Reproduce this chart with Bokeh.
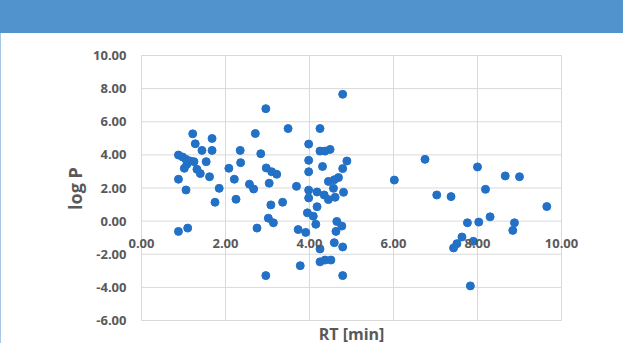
from bokeh.plotting import figure
from bokeh.models import Div, Range1d, FixedTicker, NumeralTickFormatter, Label, LabelSet, ColumnDataSource
from bokeh.core.properties import value
from bokeh.layouts import column
from bokeh.embed import file_html
from bokeh.resources import INLINE

# Retention time [min]
rt = [1.22, 1.28, 1.68, 1.44, 1.68, 0.88, 0.98, 1.06, 1.16, 1.25, 1.08, 1.02, 1.32, 1.40,
      1.54, 1.62, 0.88, 1.06, 1.85, 1.75, 2.08, 2.21, 2.25, 2.35, 2.36, 2.57, 0.88, 1.10,
      2.71, 2.96, 3.49, 3.98, 4.25, 4.25, 4.37, 4.49, 2.84, 3.98, 4.31, 2.97, 3.10, 3.22,
      3.98, 2.67, 3.04, 3.69, 3.98, 4.18, 3.36, 3.08, 3.98, 4.18, 3.95, 4.09, 3.02, 3.14,
      4.15, 2.75, 3.73, 3.91, 4.25, 3.78, 4.25, 4.37, 4.51, 2.96, 4.79,
      4.79, 4.89, 4.79, 4.69, 4.59, 4.45, 4.35, 4.45, 4.61, 4.81, 4.57, 4.65, 4.77, 4.63,
      4.59, 4.79,
      6.02, 6.75, 7.03, 7.37, 8.00, 8.19, 8.66, 9.00, 9.65, 8.30, 7.76, 8.03, 8.88, 8.84,
      7.63, 7.51, 7.43, 7.90, 7.83]
# log P
logp = [5.27, 4.67, 4.99, 4.27, 4.27, 3.99, 3.87, 3.73, 3.63, 3.59, 3.43, 3.19, 3.13, 2.87,
        3.59, 2.68, 2.53, 1.88, 1.98, 1.14, 3.19, 2.53, 1.32, 4.27, 3.53, 2.23, -0.62, -0.42,
        5.29, 6.79, 5.59, 4.65, 5.59, 4.23, 4.23, 4.33, 4.07, 3.67, 3.30, 3.21, 2.98, 2.83,
        2.98, 1.94, 2.29, 2.10, 1.87, 1.76, 1.14, 0.98, 1.40, 0.87, 0.50, 0.30, 0.18, -0.10,
        -0.19, -0.42, -0.51, -0.68, -1.68, -2.69, -2.46, -2.35, -2.35, -3.29, -3.29,
        7.66, 3.63, 3.17, 2.63, 2.50, 2.40, 1.58, 1.30, 1.44, 1.74, 1.98, -0.02, -0.30, -0.62,
        -1.30, -1.56,
        2.48, 3.73, 1.58, 1.48, 3.27, 1.92, 2.73, 2.68, 0.88, 0.26, -0.10, -0.06, -0.10, -0.56,
        -0.96, -1.36, -1.62, -1.22, -3.91]

x_ticks = [0, 2, 4, 6, 8, 10]
y_ticks = [-6, -4, -2, 0, 2, 4, 6, 8, 10]
x_tick_labels = ["0.00", "2.00", "4.00", "6.00", "8.00", "10.00"]
x_title = "RT [min]"
y_title = "log P"

GREY = "#595959"
GRID = "#d9d9d9"
FONT = "Open Sans"

# ---- layout geometry (pixels) ----
W = 623
HEADER_H = 33
FIG_H = 310
FRAME_LEFT = 126          # frame left edge inside the figure
X0_PX, X1_PX = 140, 560   # where x=0 and x=10 fall inside the figure
Y_TOP_PX, Y_BOT_PX = 22, 287  # where y=10 and y=-6 fall inside the figure

xs = (X1_PX - X0_PX) / (x_ticks[-1] - x_ticks[0])
ys = (Y_BOT_PX - Y_TOP_PX) / (y_ticks[-1] - y_ticks[0])
x_start = x_ticks[0] - (X0_PX - FRAME_LEFT) / xs
x_end = x_ticks[-1] + (W - X1_PX) / xs
y_end = y_ticks[-1] + Y_TOP_PX / ys
y_start = y_ticks[0] - (FIG_H - Y_BOT_PX) / ys

header = Div(text="", width=W, height=HEADER_H,
             styles={"background-color": "#5193CD", "margin": "0", "padding": "0"})

p = figure(width=W, height=FIG_H, x_range=Range1d(x_start, x_end), y_range=Range1d(y_start, y_end),
           output_backend="svg", toolbar_location=None, x_axis_location=None,
           min_border_left=FRAME_LEFT, min_border_right=0, min_border_top=0, min_border_bottom=0,
           background_fill_color="white", border_fill_color="white",
           styles={"border-left": "1px solid #a8c8e8"})
p.outline_line_color = None
p.xgrid.visible = False
p.ygrid.visible = False

# gridlines limited to the plot area
p.segment(x0=x_ticks, y0=[y_ticks[0]] * len(x_ticks), x1=x_ticks, y1=[y_ticks[-1]] * len(x_ticks),
          line_color=GRID, line_width=1)
p.segment(x0=[x_ticks[0]] * len(y_ticks), y0=y_ticks, x1=[x_ticks[-1]] * len(y_ticks), y1=y_ticks,
          line_color=GRID, line_width=1)

ax = p.yaxis[0]
ax.ticker = FixedTicker(ticks=y_ticks)
ax.formatter = NumeralTickFormatter(format="0.00")
ax.axis_line_color = None
ax.major_tick_line_color = None
ax.minor_tick_line_color = None
ax.major_tick_out = 0
ax.major_tick_in = 0
ax.major_label_standoff = 1
ax.major_label_text_color = GREY
ax.major_label_text_font = FONT
ax.major_label_text_font_style = "bold"
ax.major_label_text_font_size = "13px"
ax.axis_label = y_title
ax.axis_label_text_font = FONT
ax.axis_label_text_font_style = "bold"
ax.axis_label_text_font_size = "18px"
ax.axis_label_text_color = GREY
ax.axis_label_standoff = 3

# x tick labels sit under the y = 0 line
xlab = ColumnDataSource(dict(x=x_ticks, y=[0] * len(x_ticks), text=x_tick_labels))
p.add_layout(LabelSet(x="x", y="y", text="text", source=xlab, y_offset=-22,
                      text_align="center", text_baseline="middle", text_font=value(FONT),
                      text_font_style=value("bold"), text_font_size=value("13px"),
                      text_color=value(GREY)))

p.scatter(rt, logp, size=8, color="#2271C6", line_color="#2271C6")

p.add_layout(Label(x=(x_ticks[0] + x_ticks[-1]) / 2, y=y_ticks[0], y_offset=-13, text=x_title,
                   text_align="center", text_baseline="middle", text_font=FONT,
                   text_font_style="bold", text_font_size="16px", text_color=GREY))

layout = column(header, p, spacing=0)
open("out.html", "w").write(file_html(layout, INLINE))
